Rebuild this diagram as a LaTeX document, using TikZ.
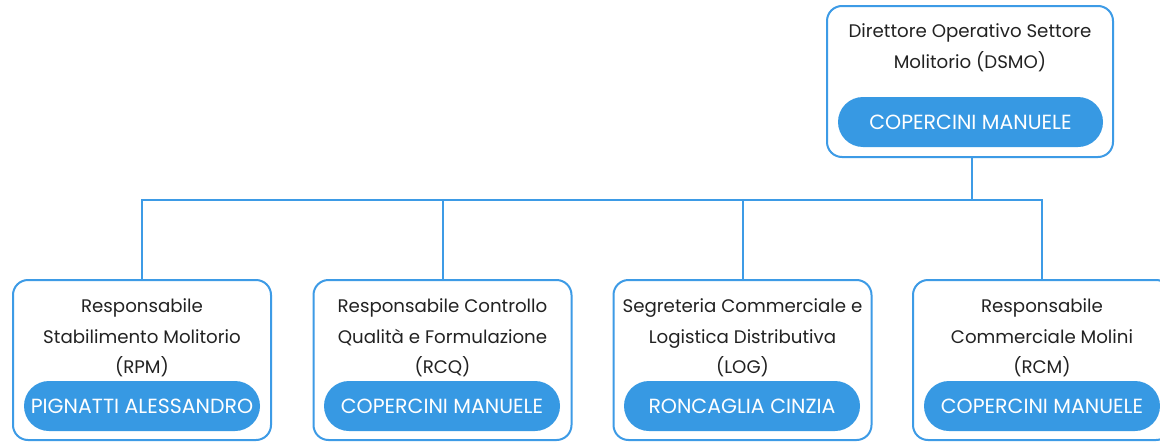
\documentclass[tikz,border=0pt]{standalone}
\usepackage{fontspec}
\setmainfont{Poppins}
\definecolor{bord}{HTML}{3D9BE6}
\definecolor{pillc}{HTML}{3799E3}
\definecolor{txt}{HTML}{222222}
\begin{document}
\begin{tikzpicture}[x=1pt,y=-1pt,
  card/.style={draw=bord,line width=2pt,rounded corners=15pt,fill=white,minimum width=258pt,minimum height=160pt,inner sep=0pt},
  topcard/.style={card,minimum width=286pt,minimum height=151pt},
  title/.style={align=center,text=txt,font=\fontsize{18.2}{30.5}\selectfont,inner sep=0pt},
  pill/.style={fill=pillc,rounded corners=25pt,minimum width=236pt,minimum height=50pt,inner sep=0pt,text=white,font=\fontsize{20.5}{22}\selectfont},
  link/.style={draw=bord,line width=2pt}]
\clip (0,0) rectangle (1160,442);
\fill[white] (0,0) rectangle (1160,442);
% top
\node[topcard] (top) at (970,81.5) {};
\node[title] (toptitle) at (970,48) {Direttore Operativo Settore\\Molitorio (DSMO)};
\node[pill,minimum width=265pt] (toppill) at (970.5,122) {COPERCINI MANUELE};
% children
\node[card] (c1) at (142,360) {};
\node[card] (c2) at (442.5,360) {};
\node[card] (c3) at (742.5,360) {};
\node[card] (c4) at (1042,360) {};
\node[title] (t1) at (142,338) {Responsabile\\Stabilimento Molitorio\\(RPM)};
\node[title] (t2) at (442.5,338) {Responsabile Controllo\\Qualità e Formulazione\\(RCQ)};
\node[title] (t3) at (742.5,338) {Segreteria Commerciale e\\Logistica Distributiva\\(LOG)};
\node[title] (t4) at (1042,338) {Responsabile\\Commerciale Molini\\(RCM)};
\node[pill] (p1) at (142,406) {PIGNATTI ALESSANDRO};
\node[pill] (p2) at (442,406) {COPERCINI MANUELE};
\node[pill] (p3) at (742,406) {RONCAGLIA CINZIA};
\node[pill] (p4) at (1042,406) {COPERCINI MANUELE};
% connectors
\coordinate (bus) at (972,200);
\draw[link] ([xshift=2pt]top.south) -- ([xshift=2pt]top.south |- bus);
\draw[link] (c1.north) -- (c1.north |- bus) -- (c4.north |- bus) -- (c4.north);
\draw[link] (c2.north) -- (c2.north |- bus);
\draw[link] (c3.north) -- (c3.north |- bus);
\end{tikzpicture}
\end{document}
